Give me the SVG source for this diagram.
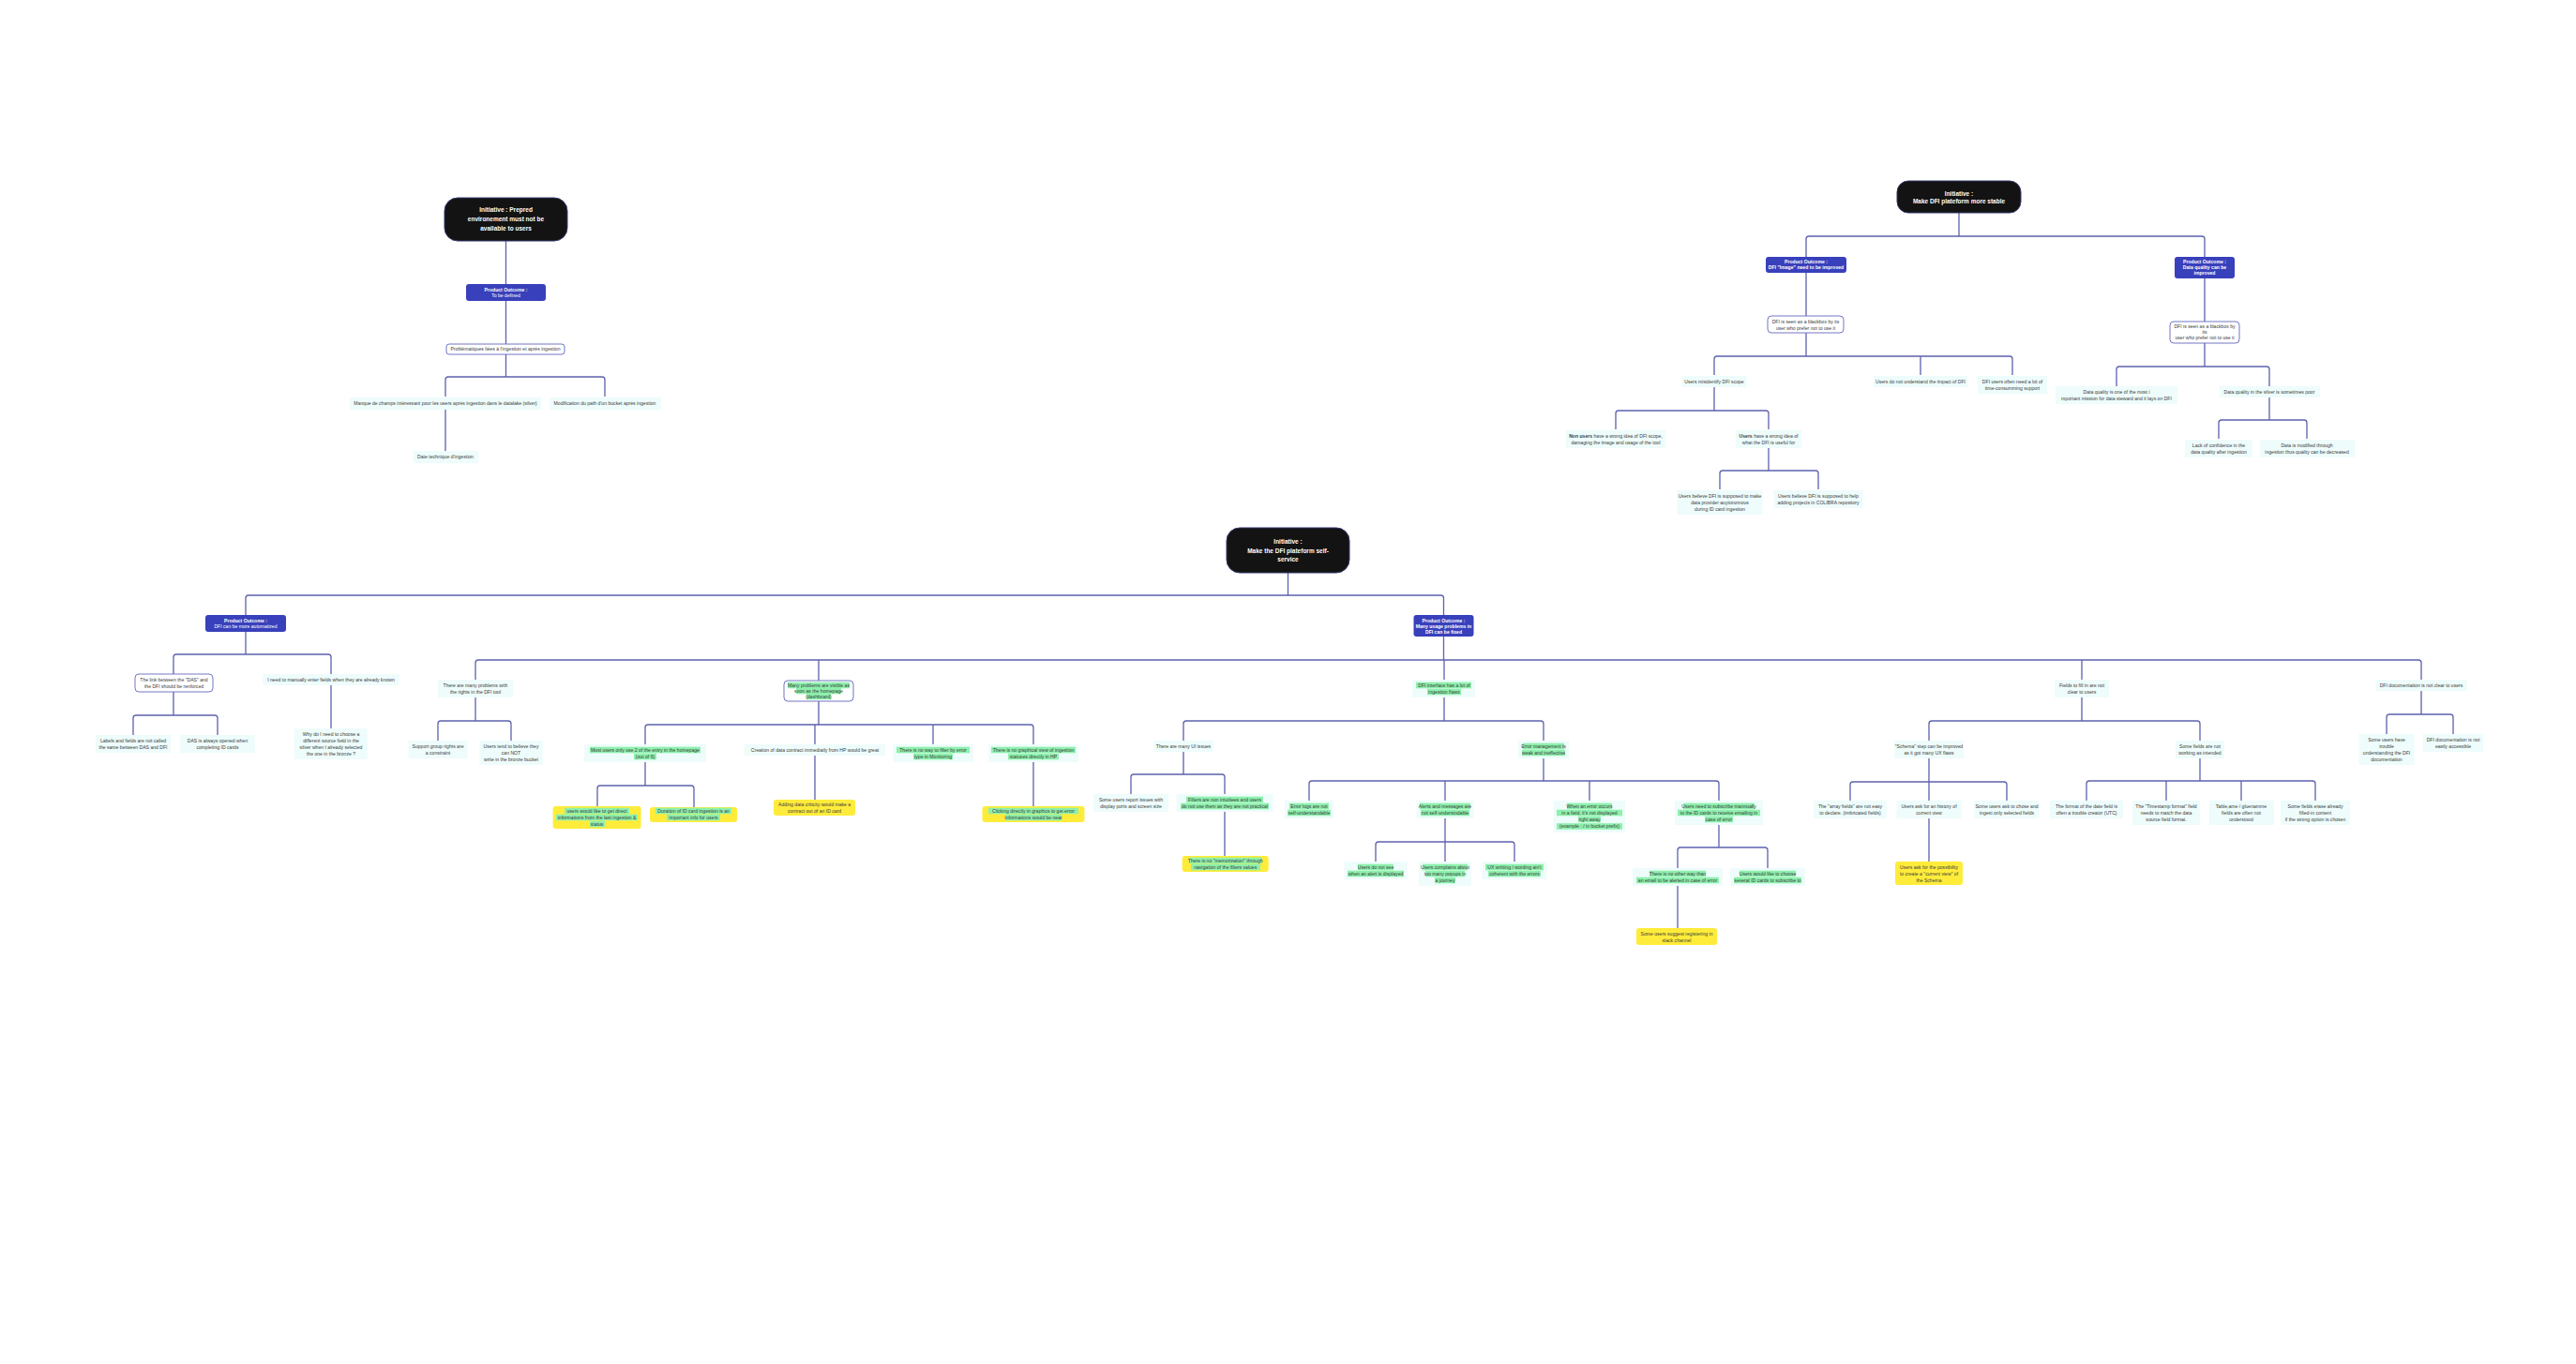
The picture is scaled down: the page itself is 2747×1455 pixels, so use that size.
<svg xmlns="http://www.w3.org/2000/svg" width="2747" height="1455" viewBox="0 0 2747 1455">
<style>
.c{fill:none;stroke:#5d61ad;stroke-width:1.3}
.t{font-family:"Liberation Sans",Arial,sans-serif;font-size:5.1px;fill:#3a3a3a;text-anchor:middle}
.pw{font-family:"Liberation Sans",Arial,sans-serif;font-size:5.1px;fill:#fff;text-anchor:middle}
.iw{font-family:"Liberation Sans",Arial,sans-serif;font-size:6.5px;font-weight:bold;fill:#fff;text-anchor:middle}
.b{font-weight:bold}
.nb{fill:#eefcfb}
.hl{fill:#8ef0ad}
.yl{fill:#ffec3a}
.bx{fill:#fff;stroke:#7377c4;stroke-width:1}
.po{fill:#3940bb}
.ini{fill:#131313;stroke:#35386e;stroke-width:1}
</style>
<rect width="2747" height="1455" fill="#fff"/>
<g id="connectors">
<path class="c" d="M539.5 257V303M539.5 321V367M539.5 378V402M475 423V405Q475 402 478 402H642Q645 402 645 405V423M475 437V481"/>
<path class="c" d="M2089 227V252M1926 274V255Q1926 252 1929 252H2348Q2351 252 2351 255V274M1926 291V337M2351 297V343M1926 355V380M1828 400V383Q1828 380 1831 380H2143Q2146 380 2146 383V400M2048 380V400M1828 413V438M1723 458V441Q1723 438 1726 438H1883Q1886 438 1886 441V458M1886 478V502M1834 522V505Q1834 502 1837 502H1936Q1939 502 1939 505V522M2351 366V391M2257 412V394Q2257 391 2260 391H2417Q2420 391 2420 394V412M2420 424V448M2366 468V451Q2366 448 2369 448H2457Q2460 448 2460 451V468"/>
<path class="c" d="M1373.5 611V635M262 656V638Q262 635 265 635H1536.5Q1539.5 635 1539.5 638V656M262 674V698M185 719V701Q185 698 188 698H350Q353 698 353 701V719M185 738V763M142 784V766Q142 763 145 763H229Q232 763 232 766V784M353 731V777"/>
<path class="c" d="M1539.5 679V704M507 725V707Q507 704 510 704H2579Q2582 704 2582 707V725M873 704V726M1540 704V725M2220 704V725M507 744V769M467 790V772Q467 769 470 769H542Q545 769 545 772V790M873 748V773M688 794V776Q688 773 691 773H1099Q1102 773 1102 776V794M869 773V794M995 773V794M688 813V838M637 860V841Q637 838 640 838H737Q740 838 740 841V861M869 806V853M1102 813V860"/>
<path class="c" d="M1540 744V769M1262 790V772Q1262 769 1265 769H1643Q1646 769 1646 772V790M1262 802V826M1206 847V829Q1206 826 1209 826H1303Q1306 826 1306 829V847M1306 866V913M1646 809V833M1396 854V836Q1396 833 1399 833H1830Q1833 833 1833 836V854M1541 833V854M1695 833V854M1541 873V898M1467 919V901Q1467 898 1470 898H1612Q1615 898 1615 901V919M1541 898V919M1833 880V904M1789 926V907Q1789 904 1792 904H1882Q1885 904 1885 907V926M1789 945V990"/>
<path class="c" d="M2220 744V769M2057 790V772Q2057 769 2060 769H2343Q2346 769 2346 772V790M2057 809V834M1973 854V837Q1973 834 1976 834H2137Q2140 834 2140 837V854M2057 834V854M2057 873V919M2346 809V833M2225 854V836Q2225 833 2228 833H2466Q2469 833 2469 836V854M2310 833V854M2390 833V854M2582 737V762M2545 783V765Q2545 762 2548 762H2613Q2616 762 2616 765V783"/>
</g>

<!-- Tree A -->
<g id="a0"><rect class="ini" x="474" y="211" width="131" height="46" rx="14"/><text class="iw" x="539.5" y="226.3"><tspan x="539.5">Initiative : Prepred</tspan><tspan x="539.5" dy="10">environement must not be</tspan><tspan x="539.5" dy="10">available to users</tspan></text></g>
<g id="a1"><rect class="po" x="497" y="303" width="85" height="18" rx="3"/><text class="pw" x="539.5" y="310.8"><tspan x="539.5" class="b">Product Outcome :</tspan><tspan x="539.5" dy="6">To be defined</tspan></text></g>
<g id="a2"><rect class="bx" x="476" y="367" width="126" height="11" rx="3"/><text class="t" x="539" y="374.3">Problématiques liées à l'ingestion et après ingestion</text></g>
<g id="a3"><rect class="nb" x="373" y="424" width="204" height="13"/><text class="t" x="475" y="431.8">Manque de champs intéressant pour les users après ingestion dans le datalake (silver)</text></g>
<g id="a4"><rect class="nb" x="586" y="424" width="119" height="13"/><text class="t" x="645" y="431.8">Modification du path d'un bucket après ingestion</text></g>
<g id="a5"><rect class="nb" x="441" y="481" width="69" height="13"/><text class="t" x="475" y="488.8">Date technique d'ingestion</text></g>

<!-- Tree B -->
<g id="b0"><rect class="ini" x="2023" y="193" width="132" height="34" rx="12"/><text class="iw" x="2089" y="209"><tspan x="2089">Initiative :</tspan><tspan x="2089" dy="7.5">Make DFI plateform more stable</tspan></text></g>
<g id="b1"><rect class="po" x="1883" y="274" width="86" height="17" rx="3"/><text class="pw b" x="1926" y="281.3"><tspan x="1926">Product Outcome :</tspan><tspan x="1926" dy="6">DFI "Image" need to be improved</tspan></text></g>
<g id="b2"><rect class="po" x="2319" y="274" width="64" height="23" rx="3"/><text class="pw b" x="2351" y="281.3"><tspan x="2351">Product Outcome :</tspan><tspan x="2351" dy="6">Data quality can be</tspan><tspan x="2351" dy="6">improved</tspan></text></g>
<g id="b3"><rect class="bx" x="1885" y="337" width="81" height="18" rx="4"/><text class="t" x="1925.5" y="344.8"><tspan x="1925.5">DFI is seen as a blackbox by its</tspan><tspan x="1925.5" dy="7">user who prefer not to use it</tspan></text></g>
<g id="b4"><rect class="bx" x="2314" y="343" width="74" height="23" rx="4"/><text class="t" x="2351" y="349.8"><tspan x="2351">DFI is seen as a blackbox by</tspan><tspan x="2351" dy="6">its</tspan><tspan x="2351" dy="6">user who prefer not to use it</tspan></text></g>
<g id="b5"><rect class="nb" x="1793.5" y="401" width="69" height="12"/><text class="t" x="1828" y="408.8">Users misidentify DFI scope</text></g>
<g id="b6"><rect class="nb" x="1998" y="401" width="100" height="12"/><text class="t" x="2048" y="408.8">Users do not understand the impact of DFI</text></g>
<g id="b7"><rect class="nb" x="2109" y="401" width="74" height="19"/><text class="t" x="2146" y="408.8"><tspan x="2146">DFI users often need a lot of</tspan><tspan x="2146" dy="7">time-consumming support</tspan></text></g>
<g id="b8"><rect class="nb" x="1670" y="459" width="106" height="19"/><text class="t" x="1723" y="466.8"><tspan x="1723"><tspan class="b">Non users</tspan> have a wrong idea of DFI scope,</tspan><tspan x="1723" dy="7">damaging the image and usage of the tool</tspan></text></g>
<g id="b9"><rect class="nb" x="1851" y="459" width="70" height="19"/><text class="t" x="1886" y="466.8"><tspan x="1886"><tspan class="b">Users</tspan> have a wrong idea of</tspan><tspan x="1886" dy="7">what the DFI is useful for</tspan></text></g>
<g id="b10"><rect class="nb" x="1788.5" y="523" width="91" height="26"/><text class="t" x="1834" y="530.8"><tspan x="1834">Users believe DFI is supposed to make</tspan><tspan x="1834" dy="7">data provider auytonomous</tspan><tspan x="1834" dy="7">during ID card ingestion</tspan></text></g>
<g id="b11"><rect class="nb" x="1891.5" y="523" width="95" height="19"/><text class="t" x="1939" y="530.8"><tspan x="1939">Users believe DFI is supposed to help</tspan><tspan x="1939" dy="7">adding projects in COLIBRA repository</tspan></text></g>
<g id="b12"><rect class="nb" x="2192" y="412" width="130" height="19"/><text class="t" x="2257" y="419.8"><tspan x="2257">Data quality is one of the most i</tspan><tspan x="2257" dy="7">mportant mission for data steward and it lays on DFI</tspan></text></g>
<g id="b13"><rect class="nb" x="2367" y="412" width="107" height="12"/><text class="t" x="2420" y="419.8">Data quality in the silver is sometimes poor</text></g>
<g id="b14"><rect class="nb" x="2330" y="469" width="72" height="19"/><text class="t" x="2366" y="476.8"><tspan x="2366">Lack of confidence in the</tspan><tspan x="2366" dy="7">data quality after ingestion</tspan></text></g>
<g id="b15"><rect class="nb" x="2410" y="469" width="101" height="19"/><text class="t" x="2460" y="476.8"><tspan x="2460">Data is modified through</tspan><tspan x="2460" dy="7">ingestion thus quality can be decreased</tspan></text></g>

<!-- Tree C -->
<g id="c0"><rect class="ini" x="1308" y="563" width="131" height="48" rx="14"/><text class="iw" x="1373.5" y="580"><tspan x="1373.5">Initiative :</tspan><tspan x="1373.5" dy="9.5">Make the DFI plateform self-</tspan><tspan x="1373.5" dy="9.5">service</tspan></text></g>
<g id="c1"><rect class="po" x="219" y="656" width="86" height="18" rx="3"/><text class="pw" x="262" y="663.8"><tspan x="262" class="b">Product Outcome :</tspan><tspan x="262" dy="6">DFI can be more automatized</tspan></text></g>
<g id="c2"><rect class="po" x="1507.5" y="656" width="64" height="23" rx="3"/><text class="pw b" x="1539.5" y="663.8"><tspan x="1539.5">Product Outcome :</tspan><tspan x="1539.5" dy="6">Many usage problems in</tspan><tspan x="1539.5" dy="6">DFI can be fixed</tspan></text></g>
<g id="c3"><rect class="bx" x="144" y="719" width="83" height="19" rx="4"/><text class="t" x="185.5" y="726.8"><tspan x="185.5">The link between the "DAS" and</tspan><tspan x="185.5" dy="7">the DFI should be renforced</tspan></text></g>
<g id="c4"><rect class="nb" x="280.5" y="719" width="145" height="12"/><text class="t" x="353" y="726.8">I need to manually enter fields when they are already known</text></g>
<g id="c5"><rect class="nb" x="102" y="784" width="80" height="19"/><text class="t" x="142" y="791.8"><tspan x="142">Labels and fields are not called</tspan><tspan x="142" dy="7">the same between DAS and DFI</tspan></text></g>
<g id="c6"><rect class="nb" x="192" y="784" width="80" height="19"/><text class="t" x="232" y="791.8"><tspan x="232">DAS is always opened when</tspan><tspan x="232" dy="7">completing ID cards</tspan></text></g>
<g id="c7"><rect class="nb" x="314" y="777" width="78" height="33"/><text class="t" x="353" y="784.8"><tspan x="353">Why do I need to choose a</tspan><tspan x="353" dy="7">different source field in the</tspan><tspan x="353" dy="7">silver when I already selected</tspan><tspan x="353" dy="7">the one in the bronze ?</tspan></text></g>
<g id="c8"><rect class="nb" x="467" y="725" width="80" height="19"/><text class="t" x="507" y="732.8"><tspan x="507">There are many problems with</tspan><tspan x="507" dy="7">the rights in the DFI tool</tspan></text></g>
<g id="c9"><rect class="bx" x="836" y="726" width="74" height="22" rx="4"/><rect class="hl" x="840" y="727.7" width="66" height="6.6"/><rect class="hl" x="849" y="733.7" width="48" height="6.6"/><rect class="hl" x="860" y="739.7" width="26" height="6.6"/><text class="t" x="873" y="732.8"><tspan x="873">Many problems are visible as</tspan><tspan x="873" dy="6">soon as the homepage</tspan><tspan x="873" dy="6">(dashboard)</tspan></text></g>
<g id="c10"><rect class="nb" x="1506" y="725" width="67" height="19"/><rect class="hl" x="1510" y="727.7" width="59" height="6.6"/><rect class="hl" x="1522" y="734.7" width="36" height="6.6"/><text class="t" x="1540" y="732.8"><tspan x="1540">DFI interface has a lot of</tspan><tspan x="1540" dy="7">ingestion flaws</tspan></text></g>
<g id="c11"><rect class="nb" x="2191" y="725" width="58" height="19"/><text class="t" x="2220" y="732.8"><tspan x="2220">Fields to fill in are not</tspan><tspan x="2220" dy="7">clear to users</tspan></text></g>
<g id="c12"><rect class="nb" x="2533.5" y="725" width="97" height="12"/><text class="t" x="2582" y="732.8">DFI documentation is not clear to users</text></g>
<g id="c13"><rect class="nb" x="435.5" y="790" width="63" height="19"/><text class="t" x="467" y="797.8"><tspan x="467">Support group rights are</tspan><tspan x="467" dy="7">a constraint</tspan></text></g>
<g id="c14"><rect class="nb" x="511.5" y="790" width="67" height="26"/><text class="t" x="545" y="797.8"><tspan x="545">Users tend to believe they</tspan><tspan x="545" dy="7">can NOT</tspan><tspan x="545" dy="7">write in the bronze bucket</tspan></text></g>
<g id="c15"><rect class="nb" x="623" y="794" width="130" height="19"/><rect class="hl" x="629" y="796.7" width="118" height="6.6"/><rect class="hl" x="676" y="803.7" width="24" height="6.6"/><text class="t" x="688" y="801.8"><tspan x="688">Most users only use 2 of the entry in the homepage</tspan><tspan x="688" dy="7">(out of 6)</tspan></text></g>
<g id="c16"><rect class="nb" x="794" y="794" width="150" height="12"/><text class="t" x="869" y="801.8">Creation of data contract immediatly from HP would be great</text></g>
<g id="c17"><rect class="nb" x="952.5" y="794" width="85" height="19"/><rect class="hl" x="956" y="796.7" width="78" height="6.6"/><rect class="hl" x="974" y="803.7" width="42" height="6.6"/><text class="t" x="995" y="801.8"><tspan x="995">There is no way to filter by error</tspan><tspan x="995" dy="7">type in Monitoring</tspan></text></g>
<g id="c18"><rect class="nb" x="1054" y="794" width="96" height="19"/><rect class="hl" x="1057" y="796.7" width="90" height="6.6"/><rect class="hl" x="1075" y="803.7" width="54" height="6.6"/><text class="t" x="1102" y="801.8"><tspan x="1102">There is no graphical view of ingestion</tspan><tspan x="1102" dy="7">statuses directly in HP</tspan></text></g>
<g id="c19"><rect class="yl" x="589.6" y="860" width="94" height="24" rx="3"/><rect class="hl" x="602" y="861.7" width="69" height="6.6"/><rect class="hl" x="593" y="868.7" width="87" height="6.6"/><rect class="hl" x="629" y="875.7" width="16" height="6.6"/><text class="t" x="636.6" y="866.8"><tspan x="636.6">users would like to get direct</tspan><tspan x="636.6" dy="7">informations from the last ingestion &amp;</tspan><tspan x="636.6" dy="7">status</tspan></text></g>
<g id="c20"><rect class="yl" x="693" y="861" width="93" height="16" rx="3"/><rect class="hl" x="699" y="861.7" width="81" height="6.6"/><rect class="hl" x="711" y="868.7" width="57" height="6.6"/><text class="t" x="739.6" y="866.8"><tspan x="739.6">Duration of ID card ingestion is an</tspan><tspan x="739.6" dy="7">important info for users</tspan></text></g>
<g id="c21"><rect class="yl" x="825" y="853" width="87" height="17" rx="3"/><text class="t" x="868.6" y="859.8"><tspan x="868.6">Adding data criticity would make a</tspan><tspan x="868.6" dy="7">contract out of an ID card</tspan></text></g>
<g id="c22"><rect class="yl" x="1047.5" y="860" width="109" height="17" rx="3"/><rect class="hl" x="1054" y="861.7" width="96" height="6.6"/><rect class="hl" x="1072" y="868.7" width="60" height="6.6"/><text class="t" x="1102" y="866.8"><tspan x="1102">Clicking directly in graphics to get error</tspan><tspan x="1102" dy="7">informations would be neat</tspan></text></g>
<g id="c23"><rect class="nb" x="1230.5" y="790" width="63" height="12"/><text class="t" x="1262" y="797.8">There are many UI issues</text></g>
<g id="c24"><rect class="nb" x="1619" y="790" width="54" height="19"/><rect class="hl" x="1624" y="792.7" width="44" height="6.6"/><rect class="hl" x="1623" y="799.7" width="46" height="6.6"/><text class="t" x="1646" y="797.8"><tspan x="1646">Error management is</tspan><tspan x="1646" dy="7">weak and ineffective</tspan></text></g>
<g id="c25"><rect class="nb" x="1166" y="847" width="80" height="19"/><text class="t" x="1206" y="854.8"><tspan x="1206">Some users report issues with</tspan><tspan x="1206" dy="7">display ports and screen size</tspan></text></g>
<g id="c26"><rect class="nb" x="1254.5" y="847" width="103" height="19"/><rect class="hl" x="1265" y="849.7" width="82" height="6.6"/><rect class="hl" x="1259" y="856.7" width="94" height="6.6"/><text class="t" x="1306" y="854.8"><tspan x="1306">Filters are non intuitiees and users</tspan><tspan x="1306" dy="7">do not use them as they are not practical</tspan></text></g>
<g id="c27"><rect class="yl" x="1260.7" y="913" width="92" height="17" rx="3"/><rect class="hl" x="1268" y="914.7" width="78" height="6.6"/><rect class="hl" x="1270" y="921.7" width="74" height="6.6"/><text class="t" x="1306.7" y="919.8"><tspan x="1306.7">There is no "memorization" through</tspan><tspan x="1306.7" dy="7">navigation of the filters values</tspan></text></g>
<g id="c28"><rect class="nb" x="1370" y="854" width="52" height="19"/><rect class="hl" x="1375" y="856.7" width="42" height="6.6"/><rect class="hl" x="1373" y="863.7" width="46" height="6.6"/><text class="t" x="1396" y="861.8"><tspan x="1396">Error logs are not</tspan><tspan x="1396" dy="7">self-understandable</tspan></text></g>
<g id="c29"><rect class="nb" x="1510.5" y="854" width="61" height="19"/><rect class="hl" x="1514" y="856.7" width="54" height="6.6"/><rect class="hl" x="1515" y="863.7" width="52" height="6.6"/><text class="t" x="1541" y="861.8"><tspan x="1541">Alerts and messages are</tspan><tspan x="1541" dy="7">not self-understndable</tspan></text></g>
<g id="c30"><rect class="nb" x="1657" y="854" width="76" height="34"/><rect class="hl" x="1671" y="856.7" width="48" height="6.6"/><rect class="hl" x="1660" y="863.7" width="70" height="6.6"/><rect class="hl" x="1683" y="870.7" width="24" height="6.6"/><rect class="hl" x="1660" y="878.2" width="70" height="6.6"/><text class="t" x="1695" y="861.8"><tspan x="1695">When an error occurs</tspan><tspan x="1695" dy="7">in a field, it's not displayed</tspan><tspan x="1695" dy="7">right away</tspan><tspan x="1695" dy="7.5">(example : / in bucket prefix)</tspan></text></g>
<g id="c31"><rect class="nb" x="1786" y="854" width="94" height="26"/><rect class="hl" x="1795" y="856.7" width="76" height="6.6"/><rect class="hl" x="1789" y="863.7" width="88" height="6.6"/><rect class="hl" x="1818" y="870.7" width="30" height="6.6"/><text class="t" x="1833" y="861.8"><tspan x="1833">Users need to subscribe mannually</tspan><tspan x="1833" dy="7">to the ID cards to receive emailing in</tspan><tspan x="1833" dy="7">case of error</tspan></text></g>
<g id="c32"><rect class="nb" x="1433.5" y="919" width="67" height="19"/><rect class="hl" x="1448" y="921.7" width="38" height="6.6"/><rect class="hl" x="1437" y="928.7" width="60" height="6.6"/><text class="t" x="1467" y="926.8"><tspan x="1467">Users do not see</tspan><tspan x="1467" dy="7">when an alert is displayed</tspan></text></g>
<g id="c33"><rect class="nb" x="1513" y="919" width="56" height="26"/><rect class="hl" x="1517" y="921.7" width="48" height="6.6"/><rect class="hl" x="1520" y="928.7" width="42" height="6.6"/><rect class="hl" x="1530" y="935.7" width="22" height="6.6"/><text class="t" x="1541" y="926.8"><tspan x="1541">Users complains about</tspan><tspan x="1541" dy="7">too many popups in</tspan><tspan x="1541" dy="7">a journey</tspan></text></g>
<g id="c34"><rect class="nb" x="1580.5" y="919" width="69" height="19"/><rect class="hl" x="1584" y="921.7" width="62" height="6.6"/><rect class="hl" x="1587" y="928.7" width="56" height="6.6"/><text class="t" x="1615" y="926.8"><tspan x="1615">UX writting / wording ain't</tspan><tspan x="1615" dy="7">coherent with the errors</tspan></text></g>
<g id="c35"><rect class="nb" x="1741" y="926" width="96" height="19"/><rect class="hl" x="1759" y="928.7" width="60" height="6.6"/><rect class="hl" x="1745" y="935.7" width="88" height="6.6"/><text class="t" x="1789" y="933.8"><tspan x="1789">There is no other way than</tspan><tspan x="1789" dy="7">an email to be alerted in case of error</tspan></text></g>
<g id="c36"><rect class="nb" x="1845" y="926" width="80" height="19"/><rect class="hl" x="1855" y="928.7" width="60" height="6.6"/><rect class="hl" x="1849" y="935.7" width="72" height="6.6"/><text class="t" x="1885" y="933.8"><tspan x="1885">Users would like to choose</tspan><tspan x="1885" dy="7">several ID cards to subscribe to</tspan></text></g>
<g id="c37"><rect class="yl" x="1745" y="990" width="86" height="18" rx="3"/><text class="t" x="1788" y="997.8"><tspan x="1788">Some users suggest registering in</tspan><tspan x="1788" dy="7">slack channel</tspan></text></g>
<g id="c38"><rect class="nb" x="2020" y="790" width="74" height="19"/><text class="t" x="2057" y="797.8"><tspan x="2057">"Schema" step can be improved</tspan><tspan x="2057" dy="7">as it got many UX flaws</tspan></text></g>
<g id="c39"><rect class="nb" x="2320" y="790" width="52" height="19"/><text class="t" x="2346" y="797.8"><tspan x="2346">Some fields are not</tspan><tspan x="2346" dy="7">working as intended</tspan></text></g>
<g id="c40"><rect class="nb" x="1934" y="854" width="78" height="19"/><text class="t" x="1973" y="861.8"><tspan x="1973">The "array fields" are not easy</tspan><tspan x="1973" dy="7">to declare. (imbricated fields)</tspan></text></g>
<g id="c41"><rect class="nb" x="2022.5" y="854" width="69" height="19"/><text class="t" x="2057" y="861.8"><tspan x="2057">Users ask for an history of</tspan><tspan x="2057" dy="7">current view</tspan></text></g>
<g id="c42"><rect class="nb" x="2105.5" y="854" width="69" height="19"/><text class="t" x="2140" y="861.8"><tspan x="2140">Some users ask to chose and</tspan><tspan x="2140" dy="7">ingest only selected fields</tspan></text></g>
<g id="c43"><rect class="yl" x="2021" y="919" width="72" height="25" rx="3"/><text class="t" x="2057" y="926.8"><tspan x="2057">Users ask for the possibility</tspan><tspan x="2057" dy="7">to create a "current view" of</tspan><tspan x="2057" dy="7">the Schema</tspan></text></g>
<g id="c44"><rect class="nb" x="2186" y="854" width="78" height="19"/><text class="t" x="2225" y="861.8"><tspan x="2225">The format of the date field is</tspan><tspan x="2225" dy="7">often a trouble creator (UTC)</tspan></text></g>
<g id="c45"><rect class="nb" x="2274" y="854" width="72" height="26"/><text class="t" x="2310" y="861.8"><tspan x="2310">The "Timestamp format" field</tspan><tspan x="2310" dy="7">needs to match the data</tspan><tspan x="2310" dy="7">source field format.</tspan></text></g>
<g id="c46"><rect class="nb" x="2356" y="854" width="69" height="26"/><text class="t" x="2390" y="861.8"><tspan x="2390">Table,ame / gluenamme</tspan><tspan x="2390" dy="7">fields are often not</tspan><tspan x="2390" dy="7">understood</tspan></text></g>
<g id="c47"><rect class="nb" x="2432" y="854" width="74" height="26"/><text class="t" x="2469" y="861.8"><tspan x="2469">Some fields erase already</tspan><tspan x="2469" dy="7">filled-in content</tspan><tspan x="2469" dy="7">if the wrong option is chosen</tspan></text></g>
<g id="c48"><rect class="nb" x="2515.5" y="783" width="59" height="33"/><text class="t" x="2545" y="790.8"><tspan x="2545">Some users have</tspan><tspan x="2545" dy="7">trouble</tspan><tspan x="2545" dy="7">understanding the DFI</tspan><tspan x="2545" dy="7">documentation</tspan></text></g>
<g id="c49"><rect class="nb" x="2584" y="783" width="64" height="19"/><text class="t" x="2616" y="790.8"><tspan x="2616">DFI documentation is not</tspan><tspan x="2616" dy="7">easily accessible</tspan></text></g>
</svg>
